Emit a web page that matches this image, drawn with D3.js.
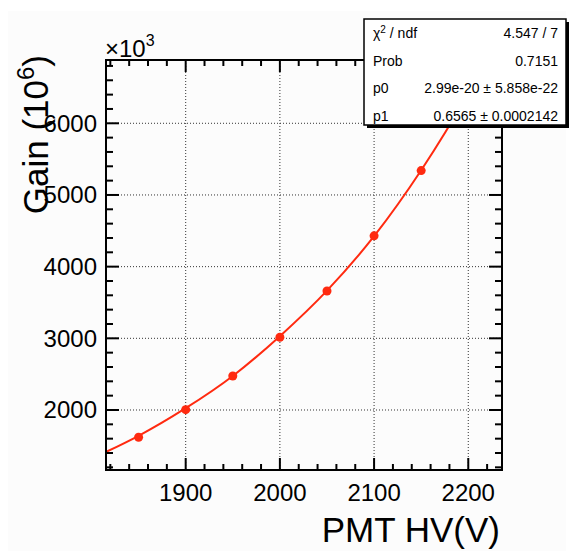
<!DOCTYPE html>
<html>
<head>
<meta charset="utf-8">
<script src="https://cdn.jsdelivr.net/npm/d3@7"></script>
<style>
	body { margin: 0; background: #ffffff; }
</style>
</head>
<body>
<div id="chart"></div>
<script>
// measured points (PMT HV in V, gain in 10^3 x 10^6)
var hv = [1800, 1850, 1900, 1950, 2000, 2050, 2100, 2150, 2200];
var gain = [1320, 1619, 2005, 2475, 3015, 3660, 4430, 5340, 6420];

// fit curve
var fitHv = [1815, 1850, 1900, 1950, 2000, 2050, 2100, 2150, 2200, 2225];
var fitGain = [1412, 1640, 2025, 2475, 3030, 3665, 4425, 5345, 6420, 7020];

var xTicks = [1900, 2000, 2100, 2200];
var yTicks = [2000, 3000, 4000, 5000, 6000];

// stat box rows
var statNames = ["χ² / ndf", "Prob", "p0", "p1"];
var statValues = ["4.547 / 7", "0.7151", "2.99e-20 ± 5.858e-22", "0.6565 ± 0.0002142"];

makechart()

function makechart() {
	var W = 572, H = 554;
	var frame = { left: 106, right: 502, top: 60, bottom: 470 };

	var svg = d3.select("#chart")
		.append("svg")
		.attr("width", W)
		.attr("height", H)
		.style("font-family", "'Liberation Sans', Arial, sans-serif");

	svg.append("rect")
		.attr("x", 8).attr("y", 11)
		.attr("width", W - 14).attr("height", H - 14)
		.attr("fill", "#fcfcfc");

	var x = d3.scaleLinear().domain([1815.4, 2235.8]).range([frame.left, frame.right]);
	var y = d3.scaleLinear().domain([1162.8, 6883]).range([frame.bottom, frame.top]);

	// grid (dotted)
	var grid = svg.append("g")
		.attr("stroke", "#333")
		.attr("stroke-width", 1)
		.attr("stroke-dasharray", "1,2");
	grid.selectAll(".gx").data(xTicks).enter().append("line")
		.attr("x1", d => x(d)).attr("x2", d => x(d))
		.attr("y1", frame.top).attr("y2", frame.bottom);
	grid.selectAll(".gy").data(yTicks).enter().append("line")
		.attr("x1", frame.left).attr("x2", frame.right)
		.attr("y1", d => y(d)).attr("y2", d => y(d));

	// clip for the data
	svg.append("clipPath").attr("id", "clip")
		.append("rect")
		.attr("x", frame.left).attr("y", frame.top)
		.attr("width", frame.right - frame.left)
		.attr("height", frame.bottom - frame.top);

	var plot = svg.append("g").attr("clip-path", "url(#clip)");

	var line = d3.line()
		.x((d, i) => x(fitHv[i]))
		.y(d => y(d))
		.curve(d3.curveMonotoneX);

	plot.append("path")
		.datum(fitGain)
		.attr("d", line)
		.attr("fill", "none")
		.attr("stroke", "#ff2a10")
		.attr("stroke-width", 2);

	plot.selectAll(".pt")
		.data(gain)
		.enter()
		.append("circle")
		.attr("cx", (d, i) => x(hv[i]))
		.attr("cy", d => y(d))
		.attr("r", 4.5)
		.attr("fill", "#ff2a10");

	// ticks on all four sides, inside the frame
	var xMinor = d3.range(1820, 2236, 20);
	var yMinor = d3.range(1200, 6884, 200);
	var ax = svg.append("g").attr("stroke", "#000").attr("stroke-width", 2);
	ax.selectAll(".tb").data(xMinor).enter().append("line")
		.attr("x1", d => x(d)).attr("x2", d => x(d))
		.attr("y1", frame.bottom).attr("y2", d => frame.bottom - (d % 100 == 0 ? 12 : 6));
	ax.selectAll(".tt").data(xMinor).enter().append("line")
		.attr("x1", d => x(d)).attr("x2", d => x(d))
		.attr("y1", frame.top).attr("y2", d => frame.top + (d % 100 == 0 ? 12 : 6));
	ax.selectAll(".tl").data(yMinor).enter().append("line")
		.attr("y1", d => y(d)).attr("y2", d => y(d))
		.attr("x1", frame.left).attr("x2", d => frame.left + (d % 1000 == 0 ? 13 : 7));
	ax.selectAll(".tr").data(yMinor).enter().append("line")
		.attr("y1", d => y(d)).attr("y2", d => y(d))
		.attr("x1", frame.right).attr("x2", d => frame.right - (d % 1000 == 0 ? 13 : 7));

	svg.append("rect")
		.attr("x", frame.left).attr("y", frame.top)
		.attr("width", frame.right - frame.left)
		.attr("height", frame.bottom - frame.top)
		.attr("fill", "none")
		.attr("stroke", "#000")
		.attr("stroke-width", 2);

	// tick labels
	svg.selectAll(".xl").data(xTicks).enter().append("text")
		.attr("x", d => x(d))
		.attr("y", 501)
		.attr("text-anchor", "middle")
		.style("font-size", "24px")
		.text(d => d);
	svg.selectAll(".yl").data(yTicks).enter().append("text")
		.attr("x", 97)
		.attr("y", d => y(d) + 8.5)
		.attr("text-anchor", "end")
		.style("font-size", "24px")
		.text(d => d);

	// exponent label
	var ex = svg.append("text")
		.attr("x", 105).attr("y", 57)
		.style("font-size", "24px");
	ex.append("tspan").text("×10");
	ex.append("tspan").text("3").attr("dy", -11).style("font-size", "16px");

	// axis titles
	svg.append("text")
		.attr("x", 500).attr("y", 542)
		.attr("text-anchor", "end")
		.style("font-size", "35px")
		.text("PMT HV(V)");

	var yt = svg.append("text")
		.attr("transform", "translate(48,55) rotate(-90)")
		.attr("text-anchor", "end")
		.style("font-size", "35px");
	yt.append("tspan").text("Gain (10");
	yt.append("tspan").text("6").attr("dy", -14).style("font-size", "24px");
	yt.append("tspan").text(")").attr("dy", 14);

	// stat box
	var bx = 364, by = 19, bw = 202, bh = 106;
	svg.append("rect")
		.attr("x", bx + 3).attr("y", by + 3)
		.attr("width", bw).attr("height", bh)
		.attr("fill", "#000");
	svg.append("rect")
		.attr("x", bx).attr("y", by)
		.attr("width", bw).attr("height", bh)
		.attr("fill", "#fff")
		.attr("stroke", "#000")
		.attr("stroke-width", 1.5);

	var rows = svg.selectAll(".st").data(statNames).enter().append("g");
	var rowY = d => by + 19 + d * 27.5;
	rows.append("text")
		.attr("x", bx + 9)
		.attr("y", (d, i) => rowY(i))
		.style("font-size", "14px")
		.each(function(d, i) {
			var t = d3.select(this);
			if (i == 0) {
				t.append("tspan").text("χ");
				t.append("tspan").text("2").attr("dy", -5).style("font-size", "10px");
				t.append("tspan").text(" / ndf").attr("dy", 5);
			} else {
				t.text(d);
			}
		});
	rows.append("text")
		.attr("x", bx + bw - 8)
		.attr("y", (d, i) => rowY(i))
		.attr("text-anchor", "end")
		.style("font-size", "14px")
		.text((d, i) => statValues[i]);
}
</script>
</body>
</html>
